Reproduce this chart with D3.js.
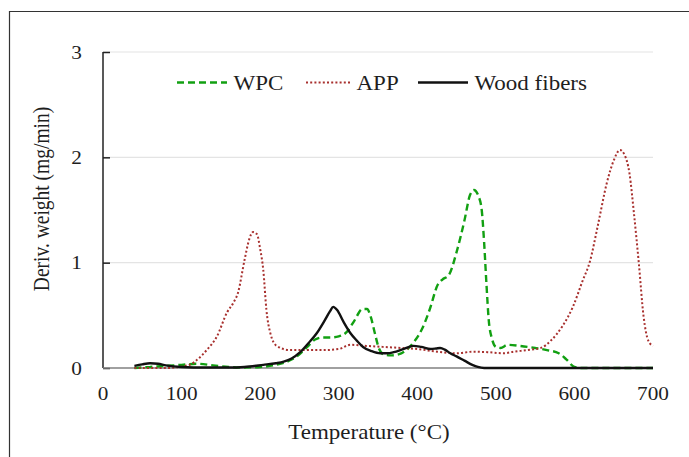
<!DOCTYPE html>
<html>
<head>
<meta charset="utf-8">
<script src="https://cdn.jsdelivr.net/npm/d3@7"></script>
<style>
  body { margin: 0; background: #fff; }
</style>
</head>
<body>
<div id="chart"></div>
<script>
// temperature (°C) / derivative weight (mg/min)
const wpcT = [40, 60, 80, 100, 120, 140, 160, 180, 200, 220, 240, 250, 260, 270, 280, 290, 300, 310, 320, 330, 336, 341, 346, 351, 357, 366, 376, 386, 396, 406, 416, 426, 432, 440, 450, 460, 467, 472, 478, 482, 485, 488, 491, 495, 500, 506, 515, 530, 550, 565, 580, 590, 600, 610, 700];
const wpcV = [0, 0.01, 0.02, 0.03, 0.04, 0.025, 0.01, 0.005, 0.01, 0.03, 0.08, 0.13, 0.2, 0.27, 0.29, 0.29, 0.3, 0.34, 0.45, 0.56, 0.56, 0.48, 0.33, 0.19, 0.13, 0.12, 0.13, 0.17, 0.25, 0.37, 0.56, 0.79, 0.84, 0.88, 1.1, 1.4, 1.64, 1.69, 1.63, 1.5, 1.2, 0.8, 0.45, 0.28, 0.2, 0.19, 0.22, 0.21, 0.19, 0.17, 0.14, 0.08, 0.01, 0, 0];

const appT = [40, 80, 110, 120, 132, 145, 158, 166, 172, 180, 186, 191, 196, 200, 204, 208, 213, 221, 238, 260, 280, 300, 315, 335, 357, 380, 400, 425, 450, 471, 490, 510, 523, 540, 557, 570, 585, 598, 610, 620, 630, 641, 650, 658, 664, 670, 676, 682, 688, 694, 700];
const appV = [0, 0, 0.03, 0.08, 0.17, 0.3, 0.53, 0.62, 0.72, 1.02, 1.22, 1.29, 1.27, 1.13, 0.93, 0.55, 0.33, 0.21, 0.17, 0.17, 0.17, 0.18, 0.22, 0.21, 0.2, 0.19, 0.18, 0.155, 0.14, 0.155, 0.15, 0.14, 0.155, 0.17, 0.19, 0.26, 0.4, 0.58, 0.82, 1.02, 1.36, 1.75, 1.97, 2.07, 2.02, 1.85, 1.45, 0.99, 0.49, 0.26, 0.21];

const woodT = [40, 50, 60, 70, 80, 100, 130, 160, 180, 204, 220, 230, 240, 251, 262, 272, 282, 289, 293, 298, 306, 315, 323, 331, 342, 353, 362, 370, 382, 395, 405, 417, 424, 429, 435, 442, 450, 460, 470, 477, 485, 500, 700];
const woodV = [0.02, 0.035, 0.045, 0.04, 0.025, 0.01, 0.005, 0.005, 0.01, 0.03, 0.045, 0.06, 0.09, 0.15, 0.24, 0.33, 0.45, 0.54, 0.58, 0.55, 0.44, 0.33, 0.26, 0.2, 0.16, 0.14, 0.14, 0.15, 0.18, 0.21, 0.2, 0.18, 0.185, 0.19, 0.175, 0.14, 0.11, 0.07, 0.03, 0.01, 0, 0, 0];

const xTicks = [0, 100, 200, 300, 400, 500, 600, 700];
const yTicks = [0, 1, 2, 3];

const seriesNames = ["WPC", "APP", "Wood fibers"];
const seriesColors = ["#12a012", "#a8302e", "#111111"];
const seriesDash = ["7,4", "2,2.2", null];
const seriesWidth = [2.4, 2, 2.4];
const seriesData = [[wpcT, wpcV], [appT, appV], [woodT, woodV]];

const width = 689, height = 457;
const margin = { left: 103, right: 36, top: 52, bottom: 89 };
const serif = "'Liberation Serif', 'Times New Roman', 'DejaVu Serif', serif";
const stretch = 1.15;   // the original picture is a bit wider than tall

const svg = d3.select("#chart").append("svg")
    .attr("width", width).attr("height", height)
    .style("font-family", serif);

// outer frame (open at the right and bottom)
svg.append("path")
    .attr("d", "M9.5,457 V11.5 H689")
    .attr("fill", "none").attr("stroke", "#333").attr("stroke-width", 1.2);

const x = d3.scaleLinear().domain([0, 700]).range([margin.left, width - margin.right]);
const y = d3.scaleLinear().domain([0, 3]).range([height - margin.bottom, margin.top]);

// text placed at (px, py), widened horizontally like the source image
function addText(parent, px, py, str, size, anchor, rot) {
    var g = parent.append("g")
        .attr("transform", "translate(" + px + "," + py + ") scale(" + stretch + ",1)" + (rot ? " rotate(" + rot + ")" : ""));
    g.append("text")
        .attr("text-anchor", anchor)
        .style("font-family", serif)
        .style("font-size", size + "px")
        .attr("fill", "#1e1e1e")
        .text(str);
    return g;
}

// gridlines
svg.append("g").selectAll("line")
    .data(yTicks.filter(d => d > 0))
    .enter().append("line")
    .attr("x1", x(0)).attr("x2", x(700))
    .attr("y1", d => y(d)).attr("y2", d => y(d))
    .attr("stroke", "#e4e4e4").attr("stroke-width", 1.2);

// y axis
const yAxis = svg.append("g")
    .attr("transform", "translate(" + x(0) + ",0)")
    .call(d3.axisRight(y).tickValues(yTicks).tickSize(7).tickFormat(""));
yAxis.selectAll("path, line").attr("stroke", "#222").attr("stroke-width", 1.5);
yAxis.select(".domain").attr("d", "M0," + y(3) + "V" + y(0));

const yLabels = svg.append("g");
yTicks.forEach(function(d) {
    addText(yLabels, x(0) - 21, y(d) + 6.5, d, 18.5, "end");
});

// x axis
svg.append("line")
    .attr("x1", x(0)).attr("x2", x(700))
    .attr("y1", y(0)).attr("y2", y(0))
    .attr("stroke", "#808080").attr("stroke-width", 1.6);

const xLabels = svg.append("g");
xTicks.forEach(function(d) {
    addText(xLabels, x(d), y(0) + 31.5, d, 18.5, "middle");
});

// axis titles
addText(svg, 369, 439, "Temperature (°C)", 20, "middle");
addText(svg, 49, 199, "Deriv. weight (mg/min)", 19.5, "middle", -90);

// curves
const line = d3.line()
    .x(d => x(d[0])).y(d => y(d[1]))
    .curve(d3.curveMonotoneX);

seriesData.forEach(function(s, i) {
    const pts = s[0].map((t, j) => [t, s[1][j]]);
    svg.append("path")
        .datum(pts)
        .attr("d", line)
        .attr("fill", "none")
        .attr("stroke", seriesColors[i])
        .attr("stroke-width", seriesWidth[i])
        .attr("stroke-dasharray", seriesDash[i])
        .attr("stroke-linejoin", "round");
});

// legend
const legendX0 = [177, 306, 418];
const legendX1 = [227, 350, 468];
const legend = svg.append("g");
seriesNames.forEach(function(name, i) {
    legend.append("line")
        .attr("x1", legendX0[i]).attr("x2", legendX1[i])
        .attr("y1", 82.5).attr("y2", 82.5)
        .attr("stroke", seriesColors[i])
        .attr("stroke-width", seriesWidth[i])
        .attr("stroke-dasharray", seriesDash[i]);
    addText(legend, legendX1[i] + 6.5, 89.5, name, 20, "start");
});
</script>
</body>
</html>
